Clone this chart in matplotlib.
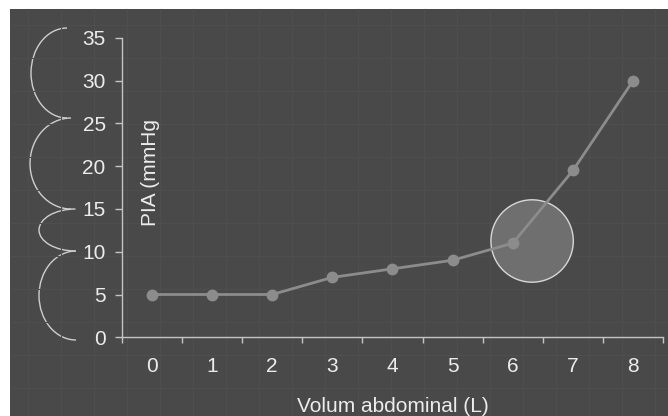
import matplotlib.pyplot as plt
from matplotlib.patches import Arc, Ellipse

# data
volum = [0, 1, 2, 3, 4, 5, 6, 7, 8]
pia = [5, 5, 5, 7, 8, 9, 11, 19.5, 30]
y_ticks = [0, 5, 10, 15, 20, 25, 30, 35]

W, H = 668, 416
bg = '#494949'
txt = '#ececec'
axc = '#c4c4c4'

plt.rcParams['font.family'] = ['Liberation Sans', 'DejaVu Sans']

fig = plt.figure(figsize=(W / 100, H / 100), dpi=100, facecolor='white')

# dark background panel with faint squares
bga = fig.add_axes([0, 0, 1, 1])
bga.set_xlim(0, W)
bga.set_ylim(H, 0)
bga.axis('off')
bga.add_patch(plt.Rectangle((10, 9), W - 10, H - 9, facecolor=bg, edgecolor='none'))
for gx in range(28, W, 33):
    bga.plot([gx, gx], [9, H], color='#4e4e4e', lw=0.8)
for gy in range(25, H, 33):
    bga.plot([10, W], [gy, gy], color='#4e4e4e', lw=0.8)

# decorative arcs on the left
arcs = [(67, 73, 72, 90), (71, 163.5, 82, 91), (75.5, 230, 73, 42), (76, 295.5, 74, 89)]
for cx, cy, w, h in arcs:
    bga.add_patch(Arc((cx, cy), w, h, theta1=90, theta2=270, color='#cfcfcf', lw=1.0))

# main chart
x0, x1 = 121.7, 663.3
yb, yt = 337.3, 37.7
ax = fig.add_axes([x0 / W, 1 - yb / H, (x1 - x0) / W, (yb - yt) / H])
ax.set_facecolor('none')
ax.set_xlim(-0.5, 8.5)
ax.set_ylim(0, 35)
for s in ['top', 'right']:
    ax.spines[s].set_visible(False)
for s in ['left', 'bottom']:
    ax.spines[s].set_color(axc)
    ax.spines[s].set_linewidth(1.0)

ax.set_yticks(y_ticks)
ax.set_yticklabels([str(v) for v in y_ticks])
ax.tick_params(axis='y', direction='out', length=5, width=1, color=axc,
               labelcolor=txt, labelsize=15, pad=6.5)

ax.set_xticks([v - 0.5 for v in volum] + [8.5])
ax.set_xticklabels([])
ax.set_xticks(volum, minor=True)
ax.set_xticklabels([str(v) for v in volum], minor=True)
ax.tick_params(axis='x', which='major', direction='out', length=4.5, width=1, color=axc)
ax.tick_params(axis='x', which='minor', length=0, labelcolor=txt, labelsize=15, pad=14)

# highlight circle around the inflection point
ax.add_patch(Ellipse((6.32, 11.25), 82.4 / 60.2, 82.4 / 8.56, facecolor='#6f6f6f',
                     edgecolor='#d8d8d8', lw=1.0, zorder=2))

ax.plot(volum, pia, color='#8c8c8c', lw=2, marker='o', markersize=7.5, zorder=3)

fig.text(392.5 / W, 1 - 412 / H, 'Volum abdominal (L)', color=txt, fontsize=15,
         ha='center', va='baseline')
fig.text(151 / W, 1 - 172 / H, 'PIA (mmHg', color=txt, fontsize=15, rotation=90,
         ha='center', va='center')

fig.savefig('out.png', dpi=100, facecolor='white')
